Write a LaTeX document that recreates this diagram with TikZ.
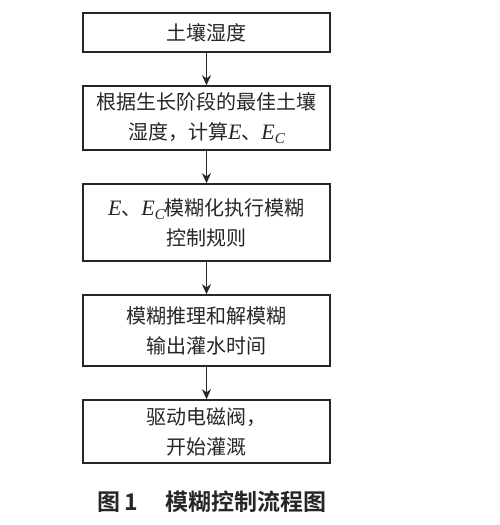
\documentclass[tikz,border=0pt]{standalone}
\usepackage{fontspec}
\setmainfont{Liberation Serif}
\newfontfamily\cjk{Noto Sans CJK SC}
\newfontfamily\cjkb{Noto Sans CJK SC Bold}
\usetikzlibrary{arrows.meta}
\newcommand{\Ei}{{\rmfamily\itshape\fontsize{22}{30}\selectfont E}}
\newcommand{\Ec}{{\rmfamily\itshape\fontsize{22}{30}\selectfont E\raisebox{-0.45ex}{\fontsize{15}{15}\selectfont C}}}
\begin{document}
\begin{tikzpicture}[x=1pt,y=1pt,
  box/.style={draw=black!85, line width=1.6pt, minimum width=247pt, align=center,
    font=\fontsize{20}{30}\cjk, text=black!85, inner sep=0pt},
  arr/.style={draw=black!85, line width=1.5pt, -{Stealth[length=10pt,width=9pt]}}]
\useasboundingbox (0,0) rectangle (500,525);
\node[box, minimum height=39pt] (b1) at (206.5,492.5) {土壤湿度};
\node[box, minimum height=64pt] (b2) at (206.5,407) {根据生长阶段的最佳土壤\\湿度，计算\Ei、\Ec};
\node[box, minimum height=77pt] (b3) at (206.5,302.5) {\Ei、\Ec 模糊化执行模糊\\控制规则};
\node[box, minimum height=71pt] (b4) at (206.5,194.5) {模糊推理和解模糊\\输出灌水时间};
\node[box, minimum height=63pt] (b5) at (206.5,93.5) {驱动电磁阀，\\开始灌溉};
\draw[arr] (b1) -- (b2);
\draw[arr] (b2) -- (b3);
\draw[arr] (b3) -- (b4);
\draw[arr] (b4) -- (b5);
\node[font=\fontsize{23}{23}\cjkb, text=black!85] (cap) at (212,23) {图\,1\hspace{1.2em}模糊控制流程图};
\end{tikzpicture}
\end{document}
